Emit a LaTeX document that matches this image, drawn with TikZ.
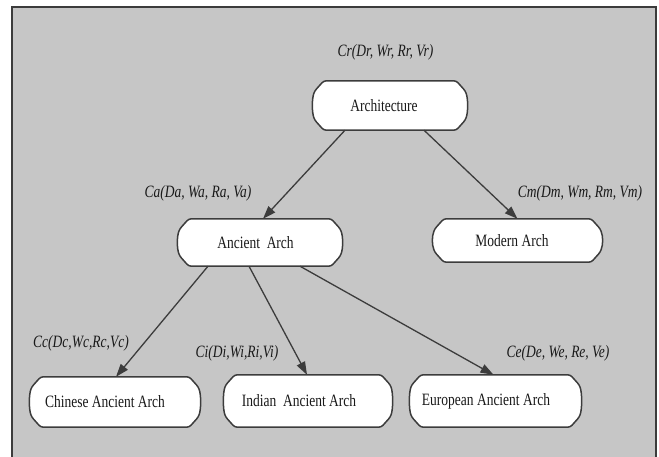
\documentclass[tikz,border=0pt]{standalone}
\usepackage{fontspec}
\setmainfont{Liberation Serif}[FakeStretch=0.78]
\usetikzlibrary{arrows.meta}
\definecolor{bggray}{RGB}{198,198,198}
\definecolor{linegray}{RGB}{60,60,60}
\definecolor{txt}{RGB}{25,25,25}
\tikzset{
  archbox/.style={draw=none, inner sep=0pt, shape=rectangle},
  boxline/.style={draw=linegray, fill=white, line width=1.5pt, rounded corners=2.5pt},
  boxtext/.style={inner sep=0pt, text=txt, font=\fontsize{17.3}{19}\selectfont},
  lbl/.style={inner sep=0pt, text=txt, font=\fontsize{17.3}{19}\selectfont\itshape},
  conn/.style={draw=linegray, line width=1.3pt, -{Triangle[length=13pt,width=9pt]}},
}
\newcommand\archoutline[1]{%
  \path[boxline] ([shift={(10,0)}]#1.north west) -- ([shift={(-10,0)}]#1.north east)
   -- ([shift={(-1,10)}]#1.north east)
   .. controls ([shift={(2,18)}]#1.north east) and ([shift={(2,-18)}]#1.south east) .. ([shift={(-1,-10)}]#1.south east)
   -- ([shift={(-10,0)}]#1.south east) -- ([shift={(10,0)}]#1.south west)
   -- ([shift={(1,-10)}]#1.south west)
   .. controls ([shift={(-2,-18)}]#1.south west) and ([shift={(-2,18)}]#1.north west) .. ([shift={(1,10)}]#1.north west)
   -- cycle;}
\begin{document}
\begin{tikzpicture}[x=1pt,y=-1pt]
\useasboundingbox (0,0) rectangle (659,456);
\begin{scope}
\clip (0,0) rectangle (659,456);
\draw[draw=linegray, fill=bggray, line width=1.5pt] (12,7) rectangle (656,470);
\end{scope}

% nodes (boxes)
\node[archbox, minimum width=152pt, minimum height=49pt] (arch) at (390,105.5) {};
\node[archbox, minimum width=162pt, minimum height=47pt] (anc) at (260,242.5) {};
\node[archbox, minimum width=167pt, minimum height=43pt] (mod) at (517.5,240.5) {};
\node[archbox, minimum width=168pt, minimum height=50pt] (chi) at (115,402) {};
\node[archbox, minimum width=166pt, minimum height=52pt] (ind) at (308,401) {};
\node[archbox, minimum width=169pt, minimum height=52pt] (eur) at (495.5,401) {};

\archoutline{arch}
\archoutline{anc}
\archoutline{mod}
\archoutline{chi}
\archoutline{ind}
\archoutline{eur}

\node[boxtext] (archT) at ([xshift=-6pt]arch.center) {Architecture};
\node[boxtext] (ancT) at ([xshift=-4.5pt]anc.center) {Ancient\ \ Arch};
\node[boxtext] (modT) at ([xshift=-5.5pt]mod.center) {Modern Arch};
\node[boxtext] (chiT) at ([xshift=-10pt]chi.center) {Chinese Ancient Arch};
\node[boxtext] (indT) at ([xshift=-9pt]ind.center) {Indian\ \ Ancient Arch};
\node[boxtext] (eurT) at ([xshift=-9.5pt]eur.center) {European Ancient Arch};

% labels
\node[lbl] (lr) at (385.5,52) {Cr(Dr, Wr, Rr, Vr)};
\node[lbl] (la) at (198,193) {Ca(Da, Wa, Ra, Va)};
\node[lbl] (lm) at (580,193) {Cm(Dm, Wm, Rm, Vm)};
\node[lbl] (lc) at (81,343) {Cc(Dc,Wc,Rc,Vc)};
\node[lbl] (li) at (237,353) {Ci(Di,Wi,Ri,Vi)};
\node[lbl] (le) at (558,353) {Ce(De, We, Re, Ve)};

% connectors
\draw[conn] ([xshift=-45pt]arch.south) -- ([xshift=3pt]anc.north);
\draw[conn] ([xshift=34pt]arch.south) -- ([xshift=0pt]mod.north);
\draw[conn] ([xshift=-52pt]anc.south) -- ([xshift=1pt]chi.north);
\draw[conn] ([xshift=-11pt]anc.south) -- ([xshift=-1pt]ind.north);
\draw[conn] ([xshift=40pt]anc.south) -- ([xshift=-2pt]eur.north);
\end{tikzpicture}
\end{document}
